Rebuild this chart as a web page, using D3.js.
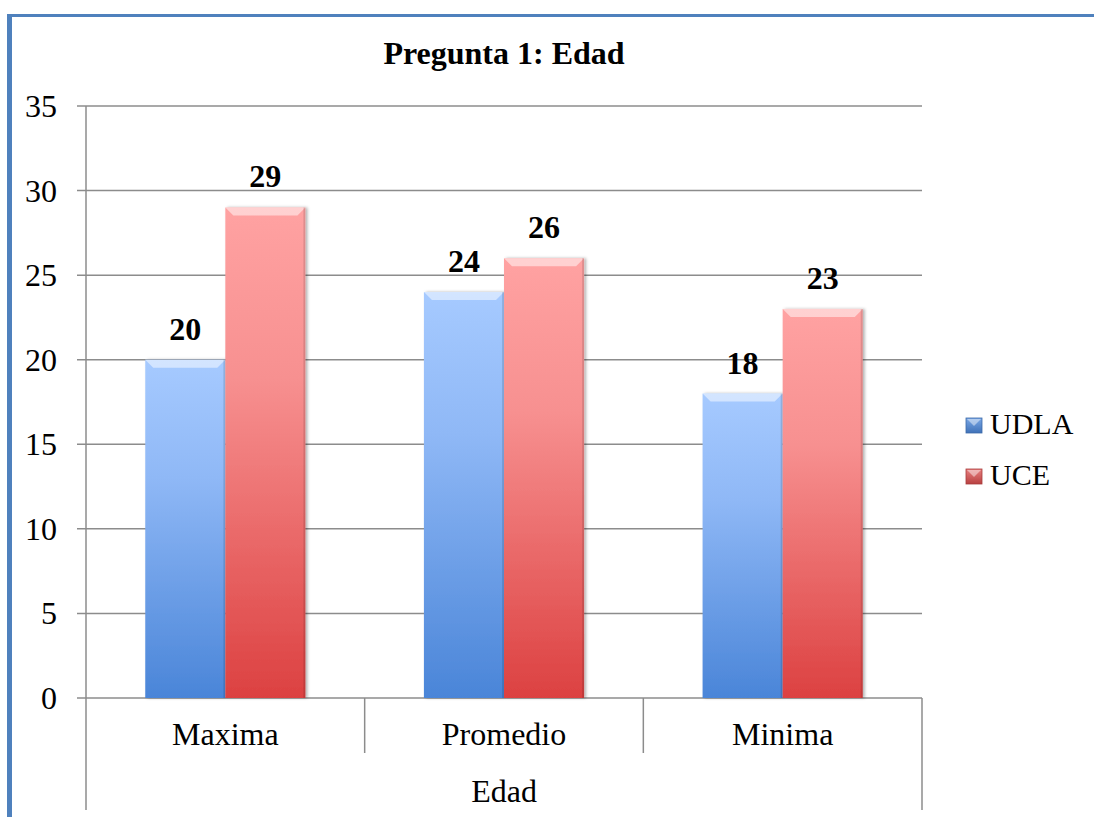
<!DOCTYPE html>
<html>
<head>
<meta charset="utf-8">
<script src="https://cdn.jsdelivr.net/npm/d3@7"></script>
<style>
  body { margin: 0; background: #fff; }
  svg text { font-family: "Liberation Serif", "Times New Roman", serif; fill: #000; }
</style>
</head>
<body>
<div id="chart"></div>
<script>
let categories = ["Maxima", "Promedio", "Minima"];
let seriesNames = ["UDLA", "UCE"];
let udla = [20, 24, 18];
let uce = [29, 26, 23];
let yTicks = [0, 5, 10, 15, 20, 25, 30, 35];
let groupLabel = "Edad";
let title = "Pregunta 1: Edad";

var w = 1094,
	h = 817,
	fontSize = 32;

let margin = { left: 86, right: 172, top: 106 };
let y0 = 698;

let svg = d3
	.select("#chart")
	.append("svg")
	.attr("width", w)
	.attr("height", h);

let defs = svg.append("defs");

let gradColors = {
	UDLA: ["#a6caff", "#8fb8f6", "#4a85d8"],
	UCE: ["#ffa2a2", "#f79090", "#dc4141"],
};
let legendColors = {
	UDLA: ["#7aa7e6", "#3f72b8"],
	UCE: ["#e88080", "#b84040"],
};

seriesNames.forEach((s) => {
	let g = defs
		.append("linearGradient")
		.attr("id", "grad" + s)
		.attr("x1", 0)
		.attr("y1", 0)
		.attr("x2", 0)
		.attr("y2", 1);
	g.append("stop").attr("offset", "0%").attr("stop-color", gradColors[s][0]);
	g.append("stop").attr("offset", "35%").attr("stop-color", gradColors[s][1]);
	g.append("stop").attr("offset", "100%").attr("stop-color", gradColors[s][2]);

	let lg = defs
		.append("linearGradient")
		.attr("id", "leg" + s)
		.attr("x1", 0)
		.attr("y1", 0)
		.attr("x2", 0)
		.attr("y2", 1);
	lg.append("stop").attr("offset", "0%").attr("stop-color", legendColors[s][0]);
	lg.append("stop").attr("offset", "100%").attr("stop-color", legendColors[s][1]);
});

let shadow = defs.append("filter").attr("id", "shadow").attr("x", "-10%").attr("width", "125%");
shadow
	.append("feDropShadow")
	.attr("dx", 2)
	.attr("dy", 0)
	.attr("stdDeviation", 1.5)
	.attr("flood-color", "#000")
	.attr("flood-opacity", 0.3);

// blue frame (left + top)
svg.append("rect").attr("x", 7).attr("y", 14).attr("width", 5).attr("height", h - 14).attr("fill", "#4f81bd");
svg.append("rect").attr("x", 7).attr("y", 14).attr("width", w - 7).attr("height", 3).attr("fill", "#4f81bd");

let plotW = w - margin.left - margin.right;

let x = d3
	.scaleBand()
	.domain(categories)
	.range([margin.left, margin.left + plotW]);

let xs = d3
	.scaleBand()
	.domain(seriesNames)
	.range([0, x.bandwidth()])
	.paddingOuter(0.74)
	.paddingInner(0);

let y = d3.scaleLinear().domain([0, 35]).range([y0, margin.top]);

// gridlines + y ticks
svg
	.append("g")
	.selectAll("line")
	.data(yTicks)
	.enter()
	.append("line")
	.attr("x1", margin.left - 9)
	.attr("x2", margin.left + plotW)
	.attr("y1", (d) => y(d))
	.attr("y2", (d) => y(d))
	.attr("stroke", "#8c8c8c")
	.attr("stroke-width", 1.5);

svg
	.append("g")
	.selectAll("text")
	.data(yTicks)
	.enter()
	.append("text")
	.attr("x", 57)
	.attr("y", (d) => y(d) + 11)
	.attr("text-anchor", "end")
	.attr("font-size", fontSize)
	.text((d) => d);

// axis lines
let axisG = svg.append("g").attr("stroke", "#8c8c8c").attr("stroke-width", 1.5);
axisG
	.append("line")
	.attr("x1", margin.left)
	.attr("x2", margin.left)
	.attr("y1", margin.top)
	.attr("y2", 810);
axisG
	.selectAll("line.cat")
	.data(categories.slice(1))
	.enter()
	.append("line")
	.attr("class", "cat")
	.attr("x1", (d) => x(d))
	.attr("x2", (d) => x(d))
	.attr("y1", y0)
	.attr("y2", 753);
axisG
	.append("line")
	.attr("x1", margin.left + plotW)
	.attr("x2", margin.left + plotW)
	.attr("y1", y0)
	.attr("y2", 810);

// bars
let rows = categories.map((c, i) => ({ cat: c, values: [udla[i], uce[i]] }));

let groups = svg
	.selectAll("g.grp")
	.data(rows)
	.enter()
	.append("g")
	.attr("class", "grp")
	.attr("transform", (d) => "translate(" + x(d.cat) + ",0)");

let bars = groups
	.selectAll("g.bar")
	.data((d) => d.values.map((v, i) => ({ s: seriesNames[i], v: v })))
	.enter()
	.append("g")
	.attr("class", "bar");

bars
	.append("rect")
	.attr("x", (d) => xs(d.s))
	.attr("y", (d) => y(d.v))
	.attr("width", xs.bandwidth())
	.attr("height", (d) => y0 - y(d.v))
	.attr("fill", (d) => "url(#grad" + d.s + ")")
	.attr("filter", "url(#shadow)");

// bevel on top of each bar
let bev = 8;
bars
	.append("path")
	.attr("d", (d) => {
		let x0 = xs(d.s),
			x1 = x0 + xs.bandwidth(),
			t = y(d.v);
		return (
			"M" + x0 + "," + t + "L" + x1 + "," + t + "L" + (x1 - bev) + "," + (t + bev) + "L" + (x0 + bev) + "," + (t + bev) + "Z"
		);
	})
	.attr("fill", "#fff")
	.attr("opacity", 0.5);

// darker right edge
bars
	.append("rect")
	.attr("x", (d) => xs(d.s) + xs.bandwidth() - 2)
	.attr("y", (d) => y(d.v))
	.attr("width", 2)
	.attr("height", (d) => y0 - y(d.v))
	.attr("fill", "#000")
	.attr("opacity", 0.12);

bars
	.append("text")
	.attr("x", (d) => xs(d.s) + xs.bandwidth() / 2)
	.attr("y", (d) => y(d.v) - 20)
	.attr("text-anchor", "middle")
	.attr("font-size", fontSize)
	.attr("font-weight", "bold")
	.text((d) => d.v);

// category labels
svg
	.append("g")
	.selectAll("text")
	.data(categories)
	.enter()
	.append("text")
	.attr("x", (d) => x(d) + x.bandwidth() / 2)
	.attr("y", 745)
	.attr("text-anchor", "middle")
	.attr("font-size", fontSize)
	.text((d) => d);

svg
	.append("text")
	.attr("x", margin.left + plotW / 2)
	.attr("y", 802)
	.attr("text-anchor", "middle")
	.attr("font-size", fontSize)
	.text(groupLabel);

svg
	.append("text")
	.attr("x", margin.left + plotW / 2)
	.attr("y", 64)
	.attr("text-anchor", "middle")
	.attr("font-size", fontSize)
	.attr("font-weight", "bold")
	.text(title);

// legend
let legend = svg.append("g").attr("transform", "translate(966,0)");
let items = legend
	.selectAll("g")
	.data(seriesNames)
	.enter()
	.append("g")
	.attr("transform", (d, i) => "translate(0," + (418 + i * 51) + ")");
items
	.append("rect")
	.attr("width", 16)
	.attr("height", 15)
	.attr("fill", (d) => "url(#leg" + d + ")")
	.attr("stroke", (d) => (d === "UDLA" ? "#3c6aa8" : "#a83c3c"))
	.attr("stroke-width", 0.8);
items
	.append("path")
	.attr("d", "M1,1L15,1L8,8Z")
	.attr("fill", "#fff")
	.attr("opacity", 0.45);
items
	.append("text")
	.attr("x", 24)
	.attr("y", 16)
	.attr("font-size", 30)
	.text((d) => d);
</script>
</body>
</html>
